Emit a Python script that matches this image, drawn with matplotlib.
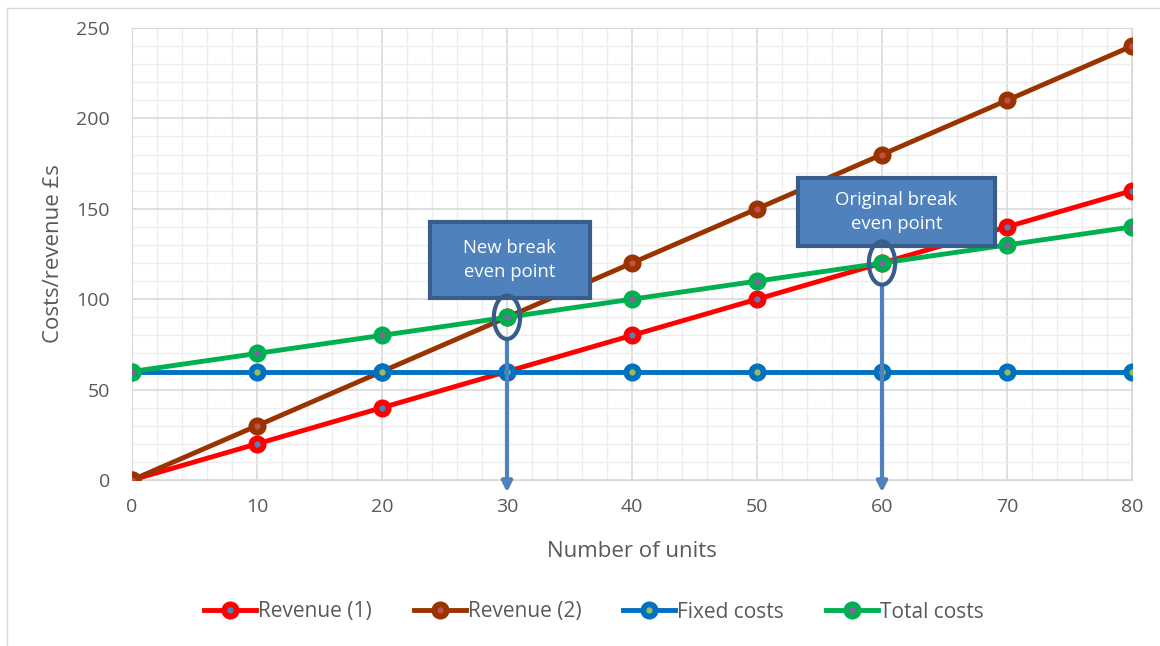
import numpy as np
import matplotlib.pyplot as plt
from matplotlib.patches import Ellipse, FancyBboxPatch
from matplotlib.lines import Line2D

# data
units = [0, 10, 20, 30, 40, 50, 60, 70, 80]
revenue1 = [0, 20, 40, 60, 80, 100, 120, 140, 160]
revenue2 = [0, 30, 60, 90, 120, 150, 180, 210, 240]
fixed_costs = [60, 60, 60, 60, 60, 60, 60, 60, 60]
total_costs = [60, 70, 80, 90, 100, 110, 120, 130, 140]
x_ticks = [0, 10, 20, 30, 40, 50, 60, 70, 80]
y_ticks = [0, 50, 100, 150, 200, 250]

plt.rcParams['font.family'] = ['Open Sans', 'DejaVu Sans']

fig = plt.figure(figsize=(11.6, 6.46), dpi=100)
ax = fig.add_axes([132/1160, 1-480/646, 1000/1160, 452/646])

# outer chart border (left + top)
fig.add_artist(Line2D([7/1160, 7/1160], [0, 1-8/646], color='#D9D9D9', lw=1))
fig.add_artist(Line2D([7/1160, 1], [1-8/646, 1-8/646], color='#D9D9D9', lw=1))

series = [
    ('Revenue (1)', revenue1, '#FF0000', '#4F81BD'),
    ('Revenue (2)', revenue2, '#993300', '#C0504D'),
    ('Fixed costs', fixed_costs, '#0070C0', '#9BBB59'),
    ('Total costs', total_costs, '#00B050', '#8064A2'),
]
for name, vals, c, fc in series:
    ax.plot(units, vals, color=c, lw=3.5, marker='o', ms=8.8,
            mfc=fc, mec=c, mew=4.2, label=name, zorder=3)

ax.set_xlim(0, 80)
ax.set_ylim(0, 250)
ax.set_xticks(x_ticks)
ax.set_yticks(y_ticks)
ax.set_xticks(np.arange(0, 81, 2), minor=True)
ax.set_yticks(np.arange(0, 251, 10), minor=True)
ax.grid(which='major', color='#D9D9D9', lw=1.2)
ax.grid(which='minor', color='#EDEDED', lw=1.0)
ax.set_axisbelow(True)
ax.tick_params(which='both', length=0, labelsize=14, colors='#595959')
ax.tick_params(axis='x', pad=13)
ax.tick_params(axis='y', pad=16)
for s in ax.spines.values():
    s.set_color('#D9D9D9')

ax.set_xlabel('Number of units', fontsize=16, color='#595959', labelpad=18)
ax.set_ylabel('Costs/revenue £s', fontsize=16, color='#595959', labelpad=9)

# annotations
box_fc = '#4F81BD'
box_ec = '#385D8A'
boxes = [((23.8, 100.7), 12.8, 42.0, 'New break\neven point'),
         ((53.3, 129.4), 15.7, 37.6, 'Original break\neven point')]
for (bx, by), bw, bh, txt in boxes:
    ax.add_patch(FancyBboxPatch((bx, by), bw, bh, boxstyle='square,pad=0',
                                fc=box_fc, ec=box_ec, lw=3, zorder=5, clip_on=False))
    ax.text(bx + bw/2, by + bh/2, txt, ha='center', va='center', color='white',
            fontsize=13.3, linespacing=1.45, zorder=6)

for ex, ey in [(30, 90), (60, 120)]:
    ax.add_patch(Ellipse((ex, ey), 2.1, 24, fc='none', ec=box_ec, lw=3, zorder=5))
    ax.annotate('', xy=(ex, -6.8), xytext=(ex, ey - 12),
                arrowprops=dict(arrowstyle='-|>', color=box_fc, lw=3,
                                mutation_scale=15, shrinkA=0, shrinkB=0),
                annotation_clip=False, zorder=4)

ax.legend(loc='center', bbox_to_anchor=(594/1160, 1-612/646), bbox_transform=fig.transFigure,
          ncol=4, frameon=False, fontsize=15, labelcolor='#595959', handlelength=2.5,
          handletextpad=0.1, columnspacing=2.0)

fig.savefig('out.png', dpi=100)
